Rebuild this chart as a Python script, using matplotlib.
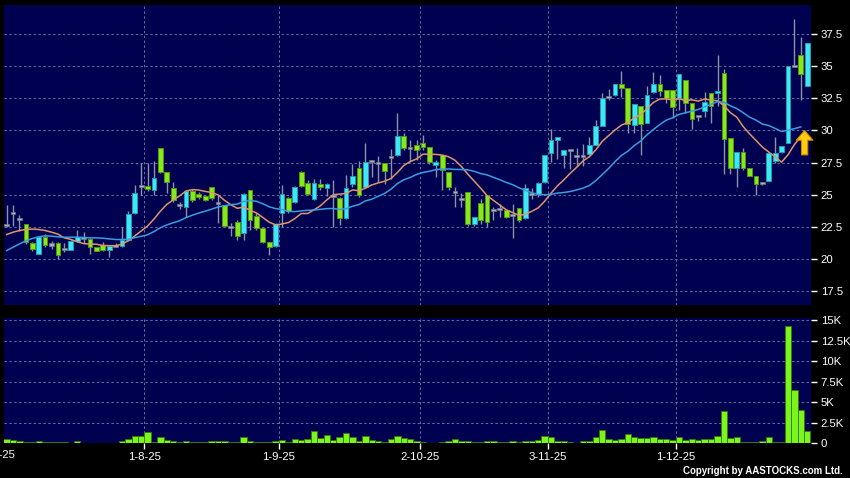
import matplotlib
matplotlib.use('Agg')
import matplotlib.pyplot as plt
import numpy as np
import pandas as pd

# ---- data ----
opens = [22.65, 23.55, 23.1, 22.7, 21.25, 20.4, 21.7, 21.12, 21.22, 20.8,
         20.73, 21.43, 21.62, 21.56, 20.9, 21.1, 20.73, 21.04, 20.99, 21.5,
         23.6, 25.65, 25.65, 25.4, 28.6, 26.77, 25.55, 24.17, 24.04, 25.29,
         25.08, 24.87, 25.57, 24.37, 24.19, 22.5, 22.84, 21.98, 25.36, 23.36,
         22.37, 21.28, 21.02, 23.6, 24.77, 24.4, 26.8, 25.94, 24.64, 25.83,
         25.5, 24.9, 24.77, 23.15, 25.81, 27.06, 25.57, 27.63, 27.5, 27.45,
         27.9, 28.1, 29.58, 28.65, 28.83, 29.0, 28.7, 27.3, 28.1, 26.77,
         25.18, 24.7, 25.18, 22.7, 24.32, 24.97, 23.8, 23.85, 23.8, 23.41,
         24.0, 23.15, 25.05, 25.05, 26.02, 28.28, 29.24, 28.07, 28.46, 28.02,
         28.0, 28.2, 28.9, 30.36, 32.62, 32.8, 33.63, 33.32, 30.39, 31.94,
         30.6, 33.0, 33.58, 33.13, 33.13, 32.54, 33.96, 32.15, 31.11, 31.5,
         32.93, 32.9, 34.48, 29.43, 27.1, 28.32, 27.1, 26.45, 25.9, 26.06,
         27.62, 28.32, 29.04, 35.0, 35.9, 33.5]
highs = [24.2, 24.2, 23.4, 22.75, 21.3, 21.75, 21.95, 21.4, 21.3, 21.2,
         21.5, 22.27, 22.1, 21.6, 20.95, 21.3, 21.1, 21.2, 22.5, 23.75,
         25.72, 27.45, 27.5, 27.66, 28.6, 26.77, 25.99, 24.43, 25.39, 25.47,
         25.2, 25.0, 25.6, 24.97, 24.2, 22.76, 23.0, 25.1, 25.36, 23.55,
         22.4, 21.3, 22.76, 25.76, 24.85, 25.7, 26.85, 26.15, 26.2, 26.2,
         25.9, 26.15, 24.8, 26.5, 27.4, 27.6, 29.0, 27.7, 28.0, 27.45,
         28.55, 31.35, 29.8, 29.27, 29.27, 29.65, 28.7, 27.7, 28.1, 26.8,
         25.6, 25.1, 25.2, 23.3, 24.7, 25.0, 24.06, 24.3, 23.8, 24.3,
         24.0, 25.8, 25.49, 26.0, 28.1, 30.1, 29.5, 28.46, 28.5, 28.6,
         28.97, 29.5, 30.8, 32.9, 33.2, 33.6, 34.6, 33.32, 32.07, 31.94,
         33.45, 34.54, 34.3, 33.13, 33.13, 34.4, 33.96, 32.15, 31.15, 33.03,
         32.93, 35.9, 34.79, 29.43, 28.32, 28.65, 27.1, 26.45, 26.0, 28.26,
         29.5, 28.8, 35.05, 38.7, 37.3, 36.8]
lows = [22.5, 22.6, 22.2, 21.17, 20.65, 20.35, 20.9, 20.8, 20.0, 20.5,
        20.7, 21.3, 21.2, 20.4, 20.6, 20.6, 20.15, 20.9, 20.95, 21.45,
        23.5, 24.95, 25.3, 24.95, 26.65, 25.1, 24.4, 23.9, 23.3, 24.43,
        24.7, 24.5, 24.6, 22.76, 22.5, 21.8, 21.5, 21.5, 22.24, 22.24,
        21.2, 20.29, 20.96, 22.5, 23.54, 24.35, 25.6, 24.97, 24.6, 25.36,
        24.9, 22.5, 22.63, 23.1, 25.6, 24.85, 25.55, 26.4, 26.0, 25.8,
        26.2, 28.05, 28.5, 27.58, 27.7, 28.5, 27.4, 26.4, 25.35, 25.4,
        24.06, 24.06, 22.6, 22.6, 22.7, 22.5, 23.0, 23.3, 23.2, 21.59,
        22.9, 23.1, 24.7, 24.8, 25.9, 27.55, 27.8, 27.05, 27.0, 27.2,
        27.2, 28.1, 28.9, 30.36, 32.4, 32.7, 32.6, 29.82, 29.82, 28.1,
        30.55, 32.95, 32.7, 32.15, 31.0, 31.6, 31.37, 30.1, 30.7, 31.06,
        30.6, 31.9, 26.6, 26.6, 25.6, 26.95, 26.45, 24.95, 25.75, 26.06,
        27.5, 28.26, 29.04, 35.0, 32.4, 33.5]
closes = [22.6, 23.54, 23.1, 21.3, 20.75, 21.7, 21.12, 21.12, 20.34, 20.8,
          21.43, 21.74, 21.62, 20.9, 20.65, 20.7, 21.04, 21.04, 21.5, 23.5,
          25.16, 25.65, 25.47, 26.3, 26.77, 25.99, 24.56, 24.17, 25.29, 24.6,
          24.8, 24.6, 24.71, 24.37, 22.58, 22.5, 21.8, 25.03, 23.02, 22.37,
          21.28, 20.89, 22.68, 25.03, 23.72, 25.63, 25.68, 25.05, 25.89, 25.57,
          25.83, 24.9, 23.15, 25.55, 26.48, 24.97, 27.58, 27.63, 27.5, 26.88,
          27.9, 29.58, 28.62, 28.65, 28.49, 28.7, 27.53, 27.53, 26.95, 25.6,
          25.18, 24.7, 22.7, 23.23, 23.02, 22.89, 23.8, 23.85, 23.28, 23.41,
          23.02, 25.49, 25.05, 25.94, 28.1, 29.24, 29.5, 28.46, 28.46, 28.02,
          28.0, 28.85, 30.36, 32.5, 32.62, 33.58, 33.32, 30.47, 32.07, 30.52,
          32.8, 33.58, 33.06, 32.54, 31.84, 34.4, 32.15, 30.86, 31.11, 32.2,
          31.9, 33.06, 29.3, 27.1, 28.32, 27.1, 26.45, 25.8, 25.9, 28.26,
          28.26, 28.8, 35.05, 35.0, 34.43, 36.8]
volumes = [0.53, 0.4, 0.32, 0.16, 0.16, 0.24, 0.2, 0.2, 0.2, 0.16,
           0.08, 0.32, 0.05, 0.08, 0.08, 0.08, 0.08, 0.08, 0.24, 0.53,
           0.9, 0.9, 1.34, 0.16, 0.73, 0.4, 0.32, 0.2, 0.32, 0.16,
           0.16, 0.16, 0.24, 0.32, 0.24, 0.16, 0.12, 0.81, 0.32, 0.16,
           0.16, 0.16, 0.24, 0.45, 0.16, 0.53, 0.4, 0.53, 1.46, 0.6,
           1.0, 0.4, 0.81, 1.25, 0.73, 0.32, 0.9, 0.4, 0.32, 0.2,
           0.49, 0.93, 0.65, 0.49, 0.24, 0.16, 0.08, 0.08, 0.16, 0.24,
           0.53, 0.32, 0.32, 0.16, 0.16, 0.24, 0.24, 0.16, 0.16, 0.32,
           0.16, 0.32, 0.32, 0.4, 0.9, 0.81, 0.24, 0.24, 0.16, 0.02,
           0.24, 0.32, 0.73, 1.62, 0.53, 0.4, 0.53, 1.1, 0.73, 0.6,
           0.65, 0.81, 0.53, 0.53, 0.45, 0.81, 0.4, 0.53, 0.45, 0.5,
           0.5, 0.89, 3.9, 0.7, 0.8, 0.2, 0.2, 0.2, 0.25, 0.8,
           0.2, 0.2, 14.3, 6.45, 4.03, 1.53]  # thousands
# moving-average values before the window fills
ma10_head = [21.9, 22.08, 22.21, 22.29, 22.32, 22.29, 22.21, 22.08, 21.93]
ma20_head = [20.65, 20.91, 21.17, 21.41, 21.59, 21.72, 21.8, 21.77, 21.72, 21.69,
             21.69, 21.69, 21.67, 21.64, 21.64, 21.61, 21.56, 21.51, 21.51]

date_ticks = [21.5, 42.5, 64.5, 84.5, 104.5]
date_labels = ['1-8-25', '1-9-25', '2-10-25', '3-11-25', '1-12-25']
first_label = '1-7-25'
price_ticks = [17.5, 20, 22.5, 25, 27.5, 30, 32.5, 35, 37.5]
price_labels = ['17.5', '20', '22.5', '25', '27.5', '30', '32.5', '35', '37.5']
vol_ticks = [0, 2.5, 5, 7.5, 10, 12.5, 15]
vol_labels = ['0', '2.5K', '5K', '7.5K', '10K', '12.5K', '15K']
copyright_text = 'Copyright by AASTOCKS.com Ltd.'

# ---- style ----
BG = '#000050'
FIG_BG = '#000000'
UP = '#3fe6f5'
UP_EDGE = '#1a9fb0'
DOWN = '#88e81c'
DOWN_EDGE = '#4f9a10'
DOJI = '#a8b0bc'
WICK = '#8c94a4'
MA10_C = '#e0956a'
MA20_C = '#3b9de0'
VOL_C = '#7cf51c'
VOL_EDGE = '#2f7a08'
GRID_C = '#6c6c9c'

plt.rcParams['font.family'] = ['Liberation Sans', 'DejaVu Sans']

W, H = 850, 478
fig = plt.figure(figsize=(W / 100, H / 100), dpi=100, facecolor=FIG_BG)
left = 4 / W
right = 811 / W
ax = fig.add_axes([left, (H - 305) / H, right - left, 300 / H])
axv = fig.add_axes([left, (H - 443.3) / H, right - left, 125.3 / H])

n = len(closes)
x = np.arange(n)
o = np.array(opens); c = np.array(closes)
hi = np.array(highs); lo = np.array(lows)

for a in (ax, axv):
    a.set_facecolor(BG)
    for s in a.spines.values():
        s.set_visible(False)
    a.grid(True, color=GRID_C, linestyle=(0, (2.5, 2.5)), linewidth=0.7)
    a.set_axisbelow(True)
    a.set_xlim(-0.42, 125.6)
    a.set_xticks(date_ticks)
    a.yaxis.tick_right()
    a.tick_params(axis='y', colors='white', labelcolor='white', direction='out',
                  length=4, width=1, pad=3, labelsize=8.2)
    a.tick_params(axis='x', colors='white', labelcolor='white', direction='out',
                  length=4, width=1, pad=2, labelsize=8.2)

ax.set_xticklabels([])
ax.tick_params(axis='x', length=0)
axv.set_xticklabels(date_labels)

# candles
ax.vlines(x, lo, hi, color=WICK, linewidth=1.0, zorder=2)
diff = c - o
doji = np.abs(diff) < 0.06
up = (diff >= 0.06)
down = (diff <= -0.06)
bw = 0.74
ax.bar(x[up], (c - o)[up], bottom=o[up], width=bw, color=UP, edgecolor=UP_EDGE,
       linewidth=0.7, zorder=3)
ax.bar(x[down], (o - c)[down], bottom=c[down], width=bw, color=DOWN, edgecolor=DOWN_EDGE,
       linewidth=0.7, zorder=3)
ax.bar(x[doji], 0.16, bottom=((o + c) / 2)[doji] - 0.08, width=bw, color=DOJI,
       edgecolor='#707888', linewidth=0.5, zorder=3)

# moving averages
cs = pd.Series(closes)
ma10 = cs.rolling(10).mean().to_numpy()
ma20 = cs.rolling(20).mean().to_numpy()
ma10[:len(ma10_head)] = ma10_head
ma20[:len(ma20_head)] = ma20_head
ax.plot(x[:-1], ma10[:-1], color=MA10_C, linewidth=1.1, zorder=4)
ax.plot(x[:-1], ma20[:-1], color=MA20_C, linewidth=1.1, zorder=4)

ax.set_ylim(16.41, 39.77)
ax.set_yticks(price_ticks)
ax.set_yticklabels(price_labels)

# up arrow marker
ax.annotate('', xy=(124.6, 30.0), xytext=(124.6, 28.1),
            arrowprops=dict(facecolor='#ffcc10', edgecolor='#c88a00', linewidth=0.8,
                            width=4.5, headwidth=12, headlength=7),
            zorder=6)

# volume
axv.bar(x, volumes, width=1.0, color=VOL_C, edgecolor=VOL_EDGE, linewidth=0.6, zorder=3)
axv.set_ylim(0, 15.25)
axv.set_yticks(vol_ticks)
axv.set_yticklabels(vol_labels)

# first (cut-off) date label, clipped by the figure edge as in the original
fig.text(-1 / W, (H - 455) / H, first_label, color='white', fontsize=8.2,
         ha='center', va='center')
fig.text(843 / W, (H - 471) / H, copyright_text, color='white', fontsize=7.0,
         ha='right', va='center', fontweight='bold')

fig.savefig('out.png', dpi=100, facecolor=FIG_BG)
